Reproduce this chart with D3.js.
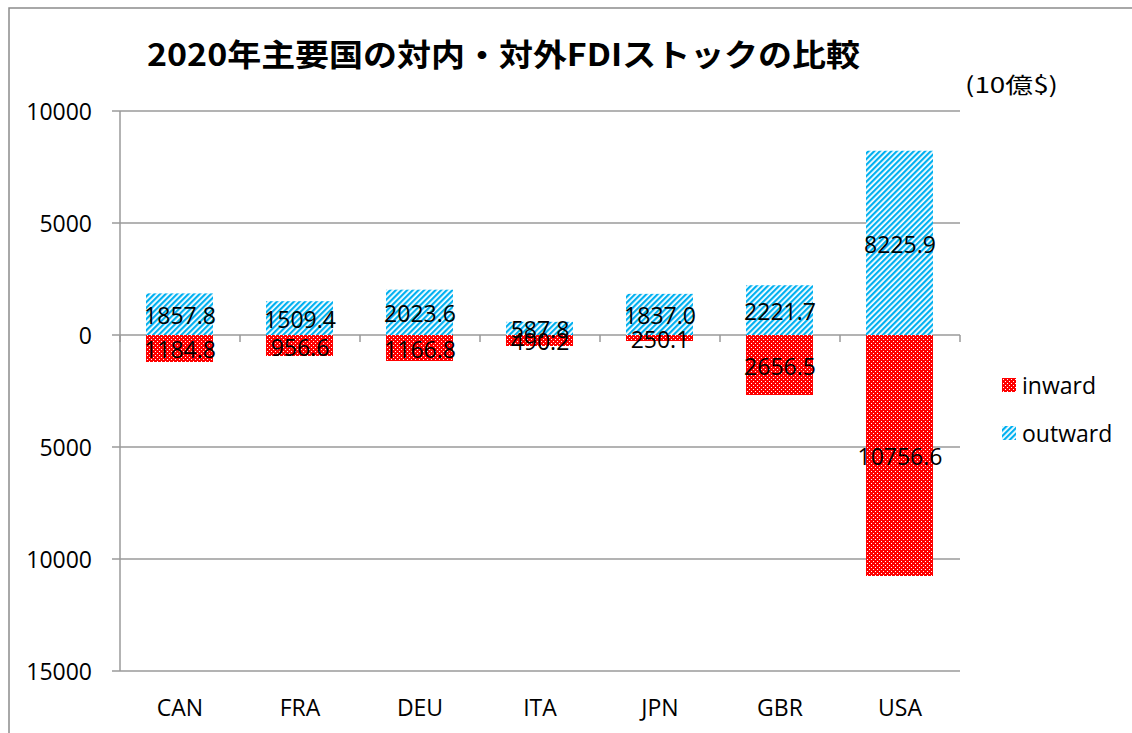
<!DOCTYPE html>
<html>
<head>
<meta charset="utf-8">
<script src="https://cdn.jsdelivr.net/npm/d3@7"></script>
<style>
html,body{margin:0;padding:0;background:#fff;}
svg{display:block;}
</style>
</head>
<body>
<div id="chart"></div>
<script>
const categories = ["CAN", "FRA", "DEU", "ITA", "JPN", "GBR", "USA"];
const outwardValues = [1857.8, 1509.4, 2023.6, 587.8, 1837.0, 2221.7, 8225.9];
const inwardValues = [1184.8, 956.6, 1166.8, 490.2, 250.1, 2656.5, 10756.6];
const tickValues = [10000, 5000, 0, -5000, -10000, -15000];
const seriesNames = ["inward", "outward"];
const titleText = "2020年主要国の対内・対外FDIストックの比較";
const unitText = "(10億$)";

const W = 1132, H = 733;
const svg = d3.select("#chart").append("svg").attr("width", W).attr("height", H);
const font = "'Open Sans', 'Noto Sans', sans-serif";

const defs = svg.append("defs");
const pOut = defs.append("pattern").attr("id", "pOut").attr("patternUnits", "userSpaceOnUse")
  .attr("width", 4).attr("height", 4).attr("patternTransform", "rotate(45)");
pOut.append("rect").attr("width", 4).attr("height", 4).attr("fill", "#fff");
pOut.append("rect").attr("width", 2.2).attr("height", 4).attr("fill", "#00B0F0");

const pIn = defs.append("pattern").attr("id", "pIn").attr("patternUnits", "userSpaceOnUse")
  .attr("width", 4).attr("height", 4);
pIn.append("rect").attr("width", 4).attr("height", 4).attr("fill", "#FF0000").attr("shape-rendering", "crispEdges");
pIn.append("rect").attr("x", 1).attr("y", 1).attr("width", 1).attr("height", 1).attr("fill", "#fff").attr("shape-rendering", "crispEdges");
pIn.append("rect").attr("x", 3).attr("y", 3).attr("width", 1).attr("height", 1).attr("fill", "#fff").attr("shape-rendering", "crispEdges");

// frame
svg.append("path").attr("d", `M9,${H} L9,8 L${W},8`).attr("fill", "none")
  .attr("stroke", "#8c8c8c").attr("stroke-width", 1.5);

const x = d3.scaleBand().domain(categories).range([120, 960]).paddingInner(0.44).paddingOuter(0.22);
const y = d3.scaleLinear().domain([-15000, 10000]).range([671, 111]);

// gridlines
svg.append("g").selectAll("line").data(tickValues).join("line")
  .attr("x1", 112).attr("x2", 960)
  .attr("y1", d => y(d)).attr("y2", d => y(d))
  .attr("stroke", "#9a9a9a").attr("stroke-width", 1.5);

// y axis line
svg.append("line").attr("x1", 120).attr("x2", 120).attr("y1", y(10000)).attr("y2", y(-15000))
  .attr("stroke", "#9a9a9a").attr("stroke-width", 1.5);

// tick labels
svg.append("g").selectAll("text").data(tickValues).join("text")
  .attr("x", 92).attr("y", d => y(d)).attr("text-anchor", "end").attr("dominant-baseline", "central")
  .attr("font-family", font).attr("font-size", 23).attr("fill", "#000")
  .text(d => Math.abs(d));

// bars
const outData = categories.map((c, i) => ({c, v: outwardValues[i]}));
const inData = categories.map((c, i) => ({c, v: -inwardValues[i]}));

svg.append("g").selectAll("rect").data(outData).join("rect")
  .attr("x", d => Math.round(x(d.c))).attr("width", Math.round(x.bandwidth()))
  .attr("y", d => y(d.v)).attr("height", d => y(0) - y(d.v))
  .attr("fill", "url(#pOut)");
svg.append("g").selectAll("rect").data(inData).join("rect")
  .attr("x", d => Math.round(x(d.c))).attr("width", Math.round(x.bandwidth()))
  .attr("y", y(0)).attr("height", d => y(d.v) - y(0))
  .attr("fill", "url(#pIn)").attr("shape-rendering", "crispEdges");

// category axis ticks at zero
const bounds = d3.range(categories.length + 1).map(i => 120 + i * x.step());
svg.append("g").selectAll("line").data(bounds).join("line")
  .attr("x1", d => d).attr("x2", d => d).attr("y1", y(0)).attr("y2", y(0) + 7)
  .attr("stroke", "#9a9a9a").attr("stroke-width", 1.5);

// value labels
const cx = c => x(c) + x.bandwidth() / 2;
svg.append("g").selectAll("text").data(outData).join("text")
  .attr("x", d => cx(d.c)).attr("y", d => (y(d.v) + y(0)) / 2 + 1)
  .attr("text-anchor", "middle").attr("dominant-baseline", "central")
  .attr("font-family", font).attr("font-size", 23).attr("fill", "#000")
  .text(d => d.v.toFixed(1));
svg.append("g").selectAll("text").data(inData).join("text")
  .attr("x", d => cx(d.c)).attr("y", d => (y(d.v) + y(0)) / 2 + 1)
  .attr("text-anchor", "middle").attr("dominant-baseline", "central")
  .attr("font-family", font).attr("font-size", 23).attr("fill", "#000")
  .text(d => (-d.v).toFixed(1));

// category labels
svg.append("g").selectAll("text").data(categories).join("text")
  .attr("x", d => cx(d)).attr("y", 707).attr("text-anchor", "middle").attr("dominant-baseline", "central")
  .attr("font-family", font).attr("font-size", 23).attr("fill", "#000")
  .text(d => d);

// title
svg.append("text").attr("x", 147).attr("y", 66)
  .attr("font-family", "'Noto Sans CJK JP', sans-serif").attr("font-weight", "bold")
  .attr("font-size", 31).attr("fill", "#000")
  .attr("textLength", 713).attr("lengthAdjust", "spacingAndGlyphs")
  .text(titleText);

// unit
svg.append("text").attr("x", 965).attr("y", 83).attr("dominant-baseline", "central")
  .attr("font-family", "'Noto Sans CJK JP', sans-serif").attr("font-size", 22).attr("fill", "#000")
  .attr("textLength", 93).attr("lengthAdjust", "spacingAndGlyphs")
  .text(unitText);

// legend
const legY = [385, 433];
const legFill = ["url(#pIn)", "url(#pOut)"];
const leg = svg.append("g").selectAll("g").data(seriesNames).join("g");
leg.append("rect").attr("x", 1002).attr("y", (d, i) => legY[i] - 7).attr("width", 14).attr("height", 14)
  .attr("fill", (d, i) => legFill[i]);
leg.append("text").attr("x", 1022).attr("y", (d, i) => legY[i]).attr("dominant-baseline", "central")
  .attr("font-family", font).attr("font-size", 23).attr("fill", "#000")
  .text(d => d);
</script>
</body>
</html>
